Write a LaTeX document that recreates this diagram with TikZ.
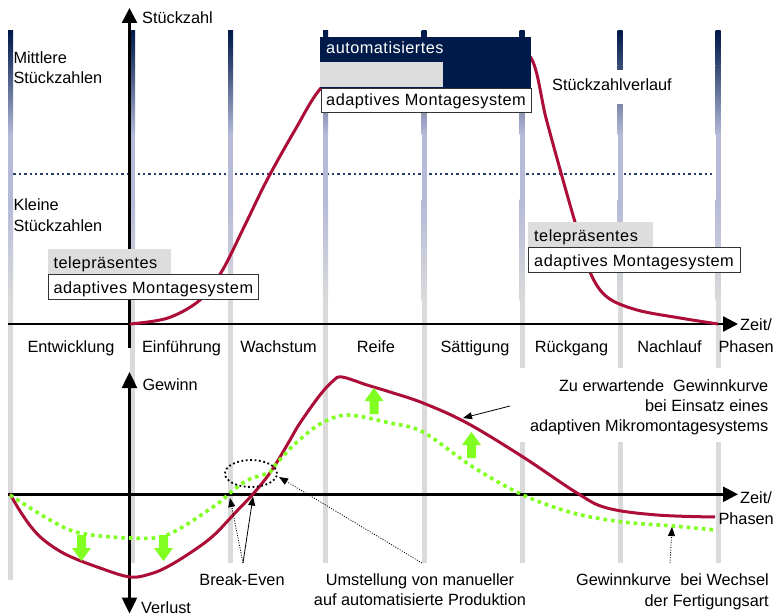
\documentclass[tikz,border=0pt]{standalone}
\usepackage{fontspec}
\setmainfont{Liberation Sans}
\usetikzlibrary{arrows.meta,shapes.geometric}
\definecolor{navy}{RGB}{0,26,74}
\definecolor{lav}{RGB}{180,186,216}
\definecolor{bgray}{RGB}{218,218,218}
\definecolor{lbox}{RGB}{221,221,221}
\definecolor{dline}{RGB}{40,62,112}
\definecolor{crim}{RGB}{172,14,56}
\definecolor{lime}{RGB}{128,255,32}
\tikzset{
  txt/.style={font=\fontsize{16.3}{19}\selectfont, inner sep=0pt, anchor=base west},
  txtr/.style={txt, anchor=base east},
  txtc/.style={txt, anchor=base},
  boxtxt/.style={txt, font=\fontsize{16.3}{19}\selectfont\addfontfeature{LetterSpace=3}},
  axisline/.style={line width=2.5pt},
  axisarr/.style={axisline, -{Triangle[length=15pt,width=15pt]}},
  crv/.style={crim, line width=3pt, line join=round},
  gcrv/.style={lime, line width=3.6pt, dash pattern=on 3.6pt off 4pt},
  thinarr/.style={line width=0.8pt, -{Triangle[length=9pt,width=7pt]}},
  dotarr/.style={thinarr, dash pattern=on 1pt off 1.5pt},
  whitebox/.style={draw=black!80, line width=1pt, fill=white, inner sep=0pt, anchor=north west},
  graybox/.style={fill=lbox, inner sep=0pt, anchor=north west},
  garr/.pic={\fill[lime] (-4.5,0) -- (4.5,0) -- (4.5,13) -- (9.5,13) -- (0,26) -- (-9.5,13) -- (-4.5,13) -- cycle;}
}
\begin{document}
\begin{tikzpicture}[x=1pt,y=-1pt]
\useasboundingbox (0,0) rectangle (780,615);
\fill[white] (0,0) rectangle (780,615);

% horizontal dotted separator
\coordinate (dl1) at (8,174);
\coordinate (dl2) at (714,174);
\draw[dline, line width=2.2pt, dash pattern=on 2.4pt off 3pt] (dl1) -- (dl2);

% phase bars
\foreach \bx/\by in {10.5/580, 132.5/563, 230.5/563, 325.5/563, 424/563, 522/563, 620/563, 718/563} {
  \shade[top color=navy, bottom color=navy!70!lav] (\bx-2.5,31) rectangle (\bx+2.5,66);
  \shade[top color=navy!70!lav, bottom color=lav] (\bx-2.5,65.5) rectangle (\bx+2.5,135);
  \fill[lav] (\bx-2.5,134.5) rectangle (\bx+2.5,200.5);
  \shade[top color=lav, bottom color=bgray] (\bx-2.5,200) rectangle (\bx+2.5,300);
  \fill[bgray] (\bx-2.5,299.5) rectangle (\bx+2.5,\by);
}

% white backgrounds of labels
\node[txt, fill=white, inner xsep=3pt, inner ysep=9pt, text height=12pt, text depth=4pt] (verlauf) at (549,90.7) {Stückzahlverlauf};
\node[fill=white, inner sep=0pt, minimum width=256pt, minimum height=74pt, anchor=north east] (zubg) at (772,368) {};

% axes
\coordinate (yTopBot) at (129.5,348);
\coordinate (yTopTip) at (129.5,8);
\draw[axisarr] (yTopBot) -- (yTopTip);
\coordinate (xTopL) at (8,324);
\coordinate (xTopR) at (738,324);
\draw[axisarr] (xTopL) -- (xTopR);
\coordinate (yBotDown) at (129.5,613.5);
\coordinate (yBotUp) at (129.5,372);
\draw[axisline, {Triangle[length=16pt,width=15pt]}-{Triangle[length=16pt,width=15pt]}] (yBotDown) -- (yBotUp);
\coordinate (xBotL) at (8,494.3);
\coordinate (xBotR) at (738,494.3);
\draw[axisarr] (xBotL) -- (xBotR);

% top red curve (Stueckzahlverlauf)
\draw[crv] plot[smooth, tension=0.55] coordinates {(130,324) (168,318) (200,300) (222,271) (245,225) (267,180) (295,130) (321,88) (360,55) (420,45) (500,45) (531,58) (546,118) (563,180) (575,222) (590,272) (607,297) (637,310) (680,318) (718,324)};

% bottom red curve
\draw[crv] plot[smooth, tension=0.6] coordinates {(10,494) (20,511) (32,528) (45,541) (67,555) (100,568) (130,577) (150,574) (167,567) (190,553) (213,536) (235,513) (253,494) (267,477) (277,462) (290,440) (300,423) (320,395) (333,381) (342,377) (367,385) (390,392) (423,403) (467,423) (523,457) (577,493) (607,508) (657,515) (715,517)};

% bottom green dotted curve
\draw[gcrv] plot[smooth, tension=0.55] coordinates {(10,495) (50,520) (80,533) (130,538) (167,535) (213,507) (230,493) (240,485) (250,479) (262,475) (270,472) (277,463) (287,452) (297,442) (320,424) (347,415) (390,423) (423,432) (473,467) (523,495) (573,513) (623,522) (673,526) (715,530)};

% green block arrows
\pic at (81.5,535) {garr};
\pic at (163.5,535) {garr};
\pic[rotate=180] at (374,414) {garr};
\pic[rotate=180] at (471.5,458) {garr};

% dotted ellipse
\node[ellipse, draw, line width=1.8pt, dash pattern=on 1.8pt off 2.6pt, minimum width=52pt, minimum height=27pt, inner sep=0pt] (ell) at (251,473.5) {};

% boxes top
\node[fill=navy, inner sep=0pt, anchor=north west, minimum width=211pt, minimum height=51pt] (autobg) at (320,37) {};
\node[graybox, minimum width=123pt, minimum height=25pt] (autogray) at (320,62) {};
\node[whitebox, minimum width=210pt, minimum height=24pt] (autowhite) at (321,88) {};
\node[boxtxt, text=white] (autot) at (326,54) {automatisiertes};
\node[boxtxt] (autoa) at (326,106) {adaptives Montagesystem};

% box left
\node[graybox, minimum width=123pt, minimum height=26pt] (lgray) at (48,249) {};
\node[whitebox, minimum width=210pt, minimum height=25pt] (lwhite) at (48,274) {};
\node[boxtxt] (lt) at (53.3,268.3) {telepräsentes};
\node[boxtxt] (la) at (53.3,293.3) {adaptives Montagesystem};

% box right
\node[graybox, minimum width=125pt, minimum height=25pt] (rgray) at (528,222) {};
\node[whitebox, minimum width=212pt, minimum height=25pt] (rwhite) at (528,247) {};
\node[boxtxt] (rt) at (534,241.7) {telepräsentes};
\node[boxtxt] (ra) at (534,266) {adaptives Montagesystem};

% top labels
\node[txt] (stz) at (142,24) {Stückzahl};
\node[txt] (mit1) at (13.3,63.3) {Mittlere};
\node[txt] (mit2) at (13.3,83.3) {Stückzahlen};
\node[txt] (kl1) at (13.3,210.7) {Kleine};
\node[txt] (kl2) at (13.3,231.7) {Stückzahlen};
\node[txt] (zt1) at (740,330.7) {Zeit/};
\node[txt] (ph1) at (718.3,352.7) {Phasen};

% phases
\node[txtc] (p1) at (71,352.7) {Entwicklung};
\node[txtc] (p2) at (181.5,352.7) {Einführung};
\node[txtc] (p3) at (278.5,352.7) {Wachstum};
\node[txtc] (p4) at (376,352.7) {Reife};
\node[txtc] (p5) at (475,352.7) {Sättigung};
\node[txtc] (p6) at (571.5,352.7) {Rückgang};
\node[txtc] (p7) at (669.5,352.7) {Nachlauf};

% bottom labels
\node[txt] (gew) at (142.3,390) {Gewinn};
\node[txt] (verl) at (141,613) {Verlust};
\node[txt] (zt2) at (740,503.3) {Zeit/};
\node[txt] (ph2) at (718.3,524.3) {Phasen};

\node[txtr] (zu1) at (768.5,391.7) {Zu erwartende \ Gewinnkurve};
\node[txtr] (zu2) at (768.5,411.7) {bei Einsatz eines};
\node[txtr] (zu3) at (768.5,431.7) {adaptiven Mikromontagesystems};

\node[txtc] (be) at (242,585) {Break-Even};
\node[txtc] (um1) at (420,585) {Umstellung von manueller};
\node[txtc] (um2) at (420,605.7) {auf automatisierte Produktion};
\node[txtr] (gw1) at (769,585) {Gewinnkurve \ bei Wechsel};
\node[txtr] (gw2) at (769,606) {der Fertigungsart};

% annotation arrows
\coordinate (beS) at (243,563);
\coordinate (beL) at (230,498);
\coordinate (beR) at (253,496.5);
\draw[dotarr] (beS) -- (beL);
\draw[thinarr] (beS) -- (beR);
\coordinate (umS) at (422,563);
\coordinate (umT) at (279,477);
\draw[dotarr] (umS) -- (umT);
\coordinate (gwS) at (670,563);
\coordinate (gwT) at (672,527);
\draw[dotarr] (gwS) -- (gwT);
\coordinate (zuS) at (510,406);
\coordinate (zuT) at (463,418);
\draw[thinarr] (zuS) -- (zuT);
\end{tikzpicture}
\end{document}
